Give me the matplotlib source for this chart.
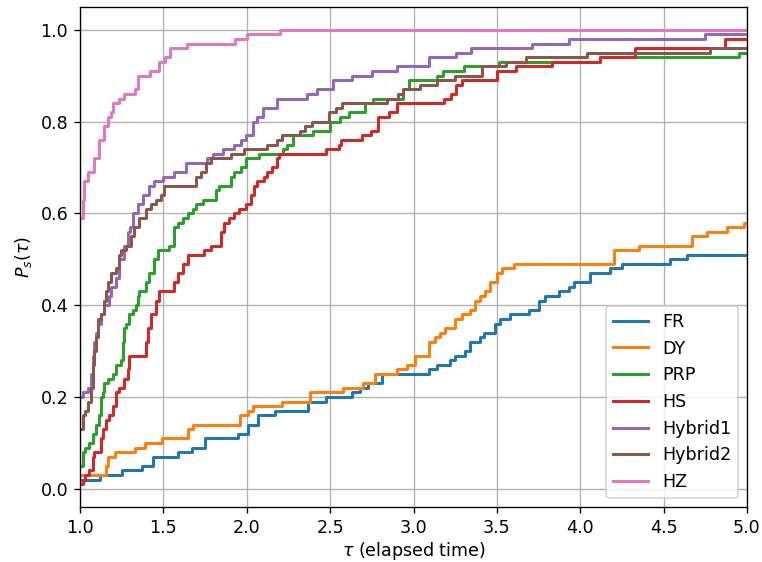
import numpy as np
import matplotlib
matplotlib.use('Agg')
import matplotlib.pyplot as plt

# performance profile breakpoints (tau, fraction of problems solved)
fr_t = [1.0, 1.12, 1.25, 1.37, 1.44, 1.59, 1.67, 1.75, 1.95, 2.01, 2.07, 2.17, 2.37, 2.475, 2.63, 2.68,
        2.73, 2.81, 3.095, 3.14, 3.22, 3.25, 3.31, 3.34, 3.40, 3.42, 3.49, 3.52, 3.58, 3.69, 3.75, 3.79,
        3.87, 3.93, 3.96, 4.06, 4.18, 4.25, 4.54, 4.64, 5.0]
fr_p = [0.02, 0.03, 0.04, 0.05, 0.07, 0.08, 0.09, 0.11, 0.12, 0.14, 0.16, 0.17, 0.19, 0.20, 0.21, 0.22,
        0.23, 0.25, 0.26, 0.27, 0.28, 0.29, 0.30, 0.32, 0.33, 0.34, 0.36, 0.37, 0.38, 0.39, 0.41, 0.42,
        0.43, 0.44, 0.45, 0.47, 0.48, 0.49, 0.50, 0.51, 0.51]

dy_t = [1.0, 1.155, 1.165, 1.21, 1.33, 1.39, 1.49, 1.65, 1.68, 1.96, 2.005, 2.04, 2.21, 2.38, 2.575, 2.695,
        2.77, 2.90, 2.96, 3.01, 3.09, 3.13, 3.16, 3.19, 3.25, 3.29, 3.34, 3.37, 3.40, 3.43, 3.46, 3.50,
        3.53, 3.60, 4.20, 4.35, 4.67, 4.76, 4.88, 4.98, 5.0]
dy_p = [0.03, 0.05, 0.07, 0.08, 0.09, 0.10, 0.11, 0.13, 0.14, 0.16, 0.17, 0.18, 0.19, 0.21, 0.22, 0.23,
        0.25, 0.26, 0.27, 0.29, 0.32, 0.33, 0.34, 0.35, 0.37, 0.38, 0.39, 0.41, 0.42, 0.43, 0.45, 0.47,
        0.48, 0.49, 0.52, 0.53, 0.55, 0.56, 0.57, 0.58, 0.58]

prp_t = [1.0, 1.016, 1.03, 1.056, 1.076, 1.096, 1.116, 1.126, 1.136, 1.146, 1.166, 1.196, 1.216, 1.246,
         1.256, 1.266, 1.276, 1.296, 1.316, 1.336, 1.346, 1.356, 1.396, 1.416, 1.446, 1.466, 1.536, 1.566,
         1.586, 1.616, 1.646, 1.676, 1.696, 1.736, 1.816, 1.836, 1.904, 1.924, 1.964, 1.996, 2.075, 2.22,
         2.243, 2.275, 2.40, 2.50, 2.56, 2.615, 2.71, 2.76, 2.94, 2.975, 3.14, 3.175, 3.30, 3.51, 4.12,
         4.95, 5.0]
prp_p = [0.05, 0.08, 0.09, 0.10, 0.12, 0.14, 0.16, 0.20, 0.21, 0.23, 0.24, 0.25, 0.27, 0.28,
         0.32, 0.35, 0.36, 0.38, 0.39, 0.40, 0.42, 0.43, 0.45, 0.47, 0.50, 0.52, 0.53, 0.57,
         0.58, 0.59, 0.60, 0.61, 0.62, 0.63, 0.65, 0.66, 0.68, 0.69, 0.70, 0.72, 0.73, 0.74,
         0.75, 0.77, 0.78, 0.80, 0.81, 0.82, 0.84, 0.85, 0.87, 0.89, 0.90, 0.91, 0.92, 0.93, 0.94,
         0.95, 0.95]

hs_t = [1.0, 1.016, 1.03, 1.056, 1.076, 1.086, 1.126, 1.136, 1.156, 1.176, 1.196, 1.216, 1.236, 1.266,
        1.286, 1.296, 1.396, 1.406, 1.426, 1.456, 1.476, 1.566, 1.586, 1.616, 1.646, 1.744, 1.784, 1.844,
        1.864, 1.896, 1.924, 1.956, 1.996, 2.024, 2.043, 2.063, 2.103, 2.123, 2.153, 2.183, 2.195, 2.475,
        2.555, 2.563, 2.693, 2.743, 2.79, 2.855, 2.90, 3.183, 3.223, 3.253, 3.293, 3.503, 3.613, 3.83,
        4.12, 4.33, 4.87, 5.0]
hs_p = [0.01, 0.02, 0.03, 0.04, 0.07, 0.08, 0.11, 0.13, 0.15, 0.16, 0.18, 0.21, 0.22, 0.24,
        0.26, 0.29, 0.32, 0.35, 0.38, 0.41, 0.43, 0.45, 0.47, 0.49, 0.51, 0.52, 0.53, 0.56,
        0.58, 0.59, 0.60, 0.61, 0.62, 0.64, 0.66, 0.67, 0.68, 0.69, 0.70, 0.72, 0.73, 0.74,
        0.75, 0.76, 0.77, 0.78, 0.81, 0.82, 0.84, 0.85, 0.86, 0.88, 0.89, 0.91, 0.92, 0.93,
        0.94, 0.96, 0.98, 0.98]

hyb1_t = [1.0, 1.016, 1.046, 1.066, 1.076, 1.086, 1.096, 1.106, 1.126, 1.146, 1.176, 1.186, 1.216, 1.236,
          1.266, 1.286, 1.30, 1.316, 1.346, 1.376, 1.416, 1.446, 1.496, 1.566, 1.636, 1.763, 1.80, 1.86,
          1.924, 1.964, 1.994, 2.04, 2.06, 2.10, 2.18, 2.36, 2.42, 2.52, 2.633, 2.753, 2.90, 3.093, 3.253,
          3.343, 3.71, 3.93, 4.75, 5.0]
hyb1_p = [0.20, 0.21, 0.22, 0.25, 0.29, 0.32, 0.34, 0.36, 0.38, 0.40, 0.42, 0.44, 0.46, 0.50,
          0.53, 0.56, 0.57, 0.60, 0.62, 0.64, 0.66, 0.67, 0.68, 0.69, 0.71, 0.72, 0.73, 0.74,
          0.75, 0.76, 0.77, 0.80, 0.81, 0.83, 0.85, 0.86, 0.87, 0.89, 0.90, 0.91, 0.92, 0.94, 0.95,
          0.96, 0.97, 0.98, 0.99, 0.99]

hyb2_t = [1.0, 1.016, 1.03, 1.046, 1.066, 1.076, 1.086, 1.096, 1.106, 1.126, 1.146, 1.156, 1.166, 1.186,
          1.216, 1.236, 1.246, 1.276, 1.306, 1.326, 1.356, 1.396, 1.426, 1.456, 1.486, 1.506, 1.696, 1.726,
          1.756, 1.784, 1.904, 1.984, 2.124, 2.184, 2.214, 2.32, 2.35, 2.393, 2.493, 2.533, 2.573, 2.84,
          2.91, 2.94, 3.04, 3.14, 3.25, 3.41, 3.553, 3.675, 4.04, 4.78, 5.0]
hyb2_p = [0.13, 0.16, 0.17, 0.19, 0.22, 0.27, 0.30, 0.33, 0.37, 0.38, 0.41, 0.43, 0.45, 0.47,
          0.48, 0.51, 0.52, 0.53, 0.55, 0.57, 0.59, 0.61, 0.62, 0.63, 0.64, 0.66, 0.68, 0.69,
          0.71, 0.72, 0.73, 0.74, 0.75, 0.76, 0.77, 0.78, 0.79, 0.80, 0.82, 0.83, 0.84, 0.85,
          0.86, 0.87, 0.88, 0.89, 0.90, 0.92, 0.93, 0.94, 0.95, 0.96, 0.96]

hz_t = [1.0, 1.016, 1.026, 1.046, 1.086, 1.116, 1.146, 1.166, 1.186, 1.196, 1.236, 1.266, 1.33, 1.35,
        1.42, 1.476, 1.51, 1.54, 1.64, 1.93, 2.00, 2.20, 5.0]
hz_p = [0.59, 0.63, 0.67, 0.69, 0.72, 0.76, 0.79, 0.81, 0.82, 0.84, 0.85, 0.86, 0.87, 0.90,
        0.91, 0.93, 0.94, 0.96, 0.97, 0.98, 0.99, 1.00, 1.00]

names = ['FR', 'DY', 'PRP', 'HS', 'Hybrid1', 'Hybrid2', 'HZ']
series = [(fr_t, fr_p), (dy_t, dy_p), (prp_t, prp_p), (hs_t, hs_p),
          (hyb1_t, hyb1_p), (hyb2_t, hyb2_p), (hz_t, hz_p)]

plt.rcParams['font.size'] = 10.5

fig = plt.figure(figsize=(762 / 120, 562 / 120), dpi=120)
ax = fig.add_axes([80 / 762, 55 / 562, 667 / 762, 500 / 562])

for name, (t, p) in zip(names, series):
    ax.plot(t, p, drawstyle='steps-post', lw=1.8, label=name)

ax.set_xlim(1, 5)
ax.set_xlabel(r'$\tau$ (elapsed time)', labelpad=2)
ax.set_ylabel(r'$P_s(\tau)$')
ax.grid(True)
ax.legend(loc='lower right')

fig.savefig('out.png', dpi=120)
